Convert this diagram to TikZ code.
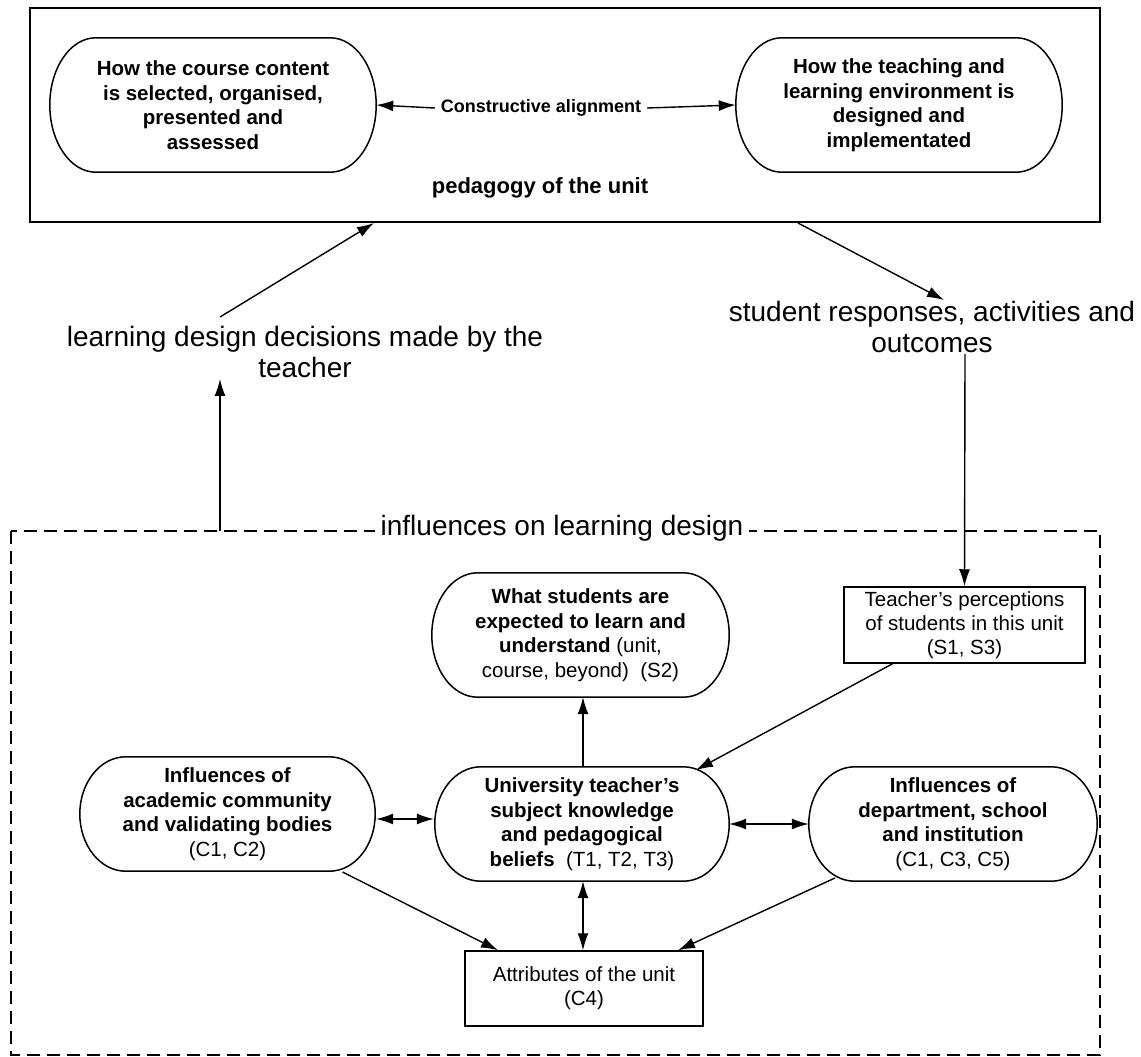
\documentclass[tikz,border=0pt]{standalone}
\usepackage{fontspec}
\setmainfont{Liberation Sans}
\usetikzlibrary{calc,arrows.meta}
\newcommand\capsuledraw[1]{%
  \draw[capline] let \p1=(#1.north west), \p2=(#1.south east), \n1={0.5*(\y1-\y2)} in
    (\x1+46pt,\y1) -- (\x2-46pt,\y1)
    arc[start angle=90,end angle=-90,x radius=46pt,y radius=\n1]
    -- (\x1+46pt,\y2)
    arc[start angle=-90,end angle=-270,x radius=46pt,y radius=\n1] -- cycle;}
\begin{document}
\begin{tikzpicture}[x=1pt,y=-1pt,
  capline/.style={line width=1.5pt},
  capsule/.style={draw=none,rectangle,inner sep=0pt,align=center,
    font=\fontsize{20.5}{24.5}\selectfont},
  plainbox/.style={draw,line width=1.5pt,rectangle,inner sep=0pt,align=center,
    font=\fontsize{20.5}{24}\selectfont},
  biglabel/.style={align=center,inner sep=1pt,font=\fontsize{28}{31}\selectfont},
  arr/.style={line width=1.4pt,-{Latex[length=17pt,width=11pt]}},
  darr/.style={line width=1.4pt,{Latex[length=17pt,width=11pt]}-{Latex[length=17pt,width=11pt]}}
]
\useasboundingbox (0,0) rectangle (1141,1057);
\fill[white] (0,0) rectangle (1141,1057);

% top box
\node[draw,line width=2pt,minimum width=1070pt,minimum height=214pt,inner sep=0pt] (topbox) at (565,115) {};
\node[capsule,minimum width=326pt,minimum height=134pt] (content) at (213,105)
  {\bfseries How the course content\\\bfseries is selected, organised,\\\bfseries presented and\\\bfseries assessed};
\node[capsule,minimum width=326pt,minimum height=134pt] (env) at (899,105)
  {\bfseries How the teaching and\\\bfseries learning environment is\\\bfseries designed and\\\bfseries implementated};
\capsuledraw{content}
\capsuledraw{env}
\node[inner sep=6pt,font=\fontsize{18}{21}\selectfont\bfseries] (align) at (541,108) {Constructive alignment};
\draw[arr] (align.west) -- (content.east);
\draw[arr] (align.east) -- (env.west);
\node[font=\fontsize{22}{26}\selectfont\bfseries] (ped) at (540,188) {pedagogy of the unit};

% middle labels
\node[biglabel] (ldd) at (305,352) {learning design decisions made by the\\teacher};
\node[biglabel] (sr) at (932,327) {student responses, activities and\\outcomes};
\draw[arr] ($(ldd.north)+(-85,-8)$) -- ($(topbox.south)+(-191,0)$);
\draw[arr] ($(topbox.south)+(233,0)$) -- ($(sr.north)+(12,0)$);

% dashed influences box
\draw[line width=1.3pt,dash pattern=on 13pt off 7pt] (11,531) rectangle (1100,1055);
\node[fill=white,inner sep=6pt,font=\fontsize{28}{31}\selectfont] (infl) at (562,528) {influences on learning design};
\coordinate (influp) at (220,531);
\draw[arr] (influp) -- ($(ldd.south)+(-85,0)$);

% influence nodes
\node[capsule,minimum width=297pt,minimum height=124pt] (what) at (580.5,635)
  {\textbf{What students are}\\\textbf{expected to learn and}\\\textbf{understand} (unit,\\course, beyond)\ \ (S2)};
\capsuledraw{what}
\node[plainbox,minimum width=241pt,minimum height=76pt] (perc) at (964.5,625)
  {Teacher’s perceptions\\of students in this unit\\(S1, S3)};
\draw[arr] ($(sr.south)+(33,0)$) -- (perc.north);

\node[capsule,minimum width=295pt,minimum height=114pt] (acad) at (227.5,814)
  {\textbf{Influences of}\\\textbf{academic community}\\\textbf{and validating bodies}\\(C1, C2)};
\node[capsule,minimum width=294pt,minimum height=114pt] (univ) at (582,824)
  {\textbf{University teacher’s}\\\textbf{subject knowledge}\\\textbf{and pedagogical}\\\textbf{beliefs}\ \ (T1, T2, T3)};
\node[capsule,minimum width=288pt,minimum height=114pt] (dept) at (953,824)
  {\textbf{Influences of}\\\textbf{department, school}\\\textbf{and institution}\\(C1, C3, C5)};
\capsuledraw{acad}
\capsuledraw{univ}
\capsuledraw{dept}
\node[plainbox,minimum width=238pt,minimum height=75pt] (attr) at (584,988.5)
  {Attributes of the unit\\(C4)};

\draw[arr] ($(univ.north)+(1,0)$) -- ($(what.south)+(2.5,0)$);
\draw[arr] ($(perc.south)+(-72,0)$) -- ($(univ.center)+(114,-54)$);
\draw[darr] ($(acad.east)+(1,5)$) -- ($(univ.west)+(-1,-5)$);
\draw[darr] (univ.east) -- (dept.west);
\draw[darr] ($(univ.south)+(1,0)$) -- ($(attr.north)+(-1,0)$);
\draw[arr] ($(acad.center)+(115,58)$) -- ($(attr.north)+(-86,0)$);
\draw[arr] ($(dept.center)+(-118,54)$) -- ($(attr.north)+(94,0)$);
\end{tikzpicture}
\end{document}
